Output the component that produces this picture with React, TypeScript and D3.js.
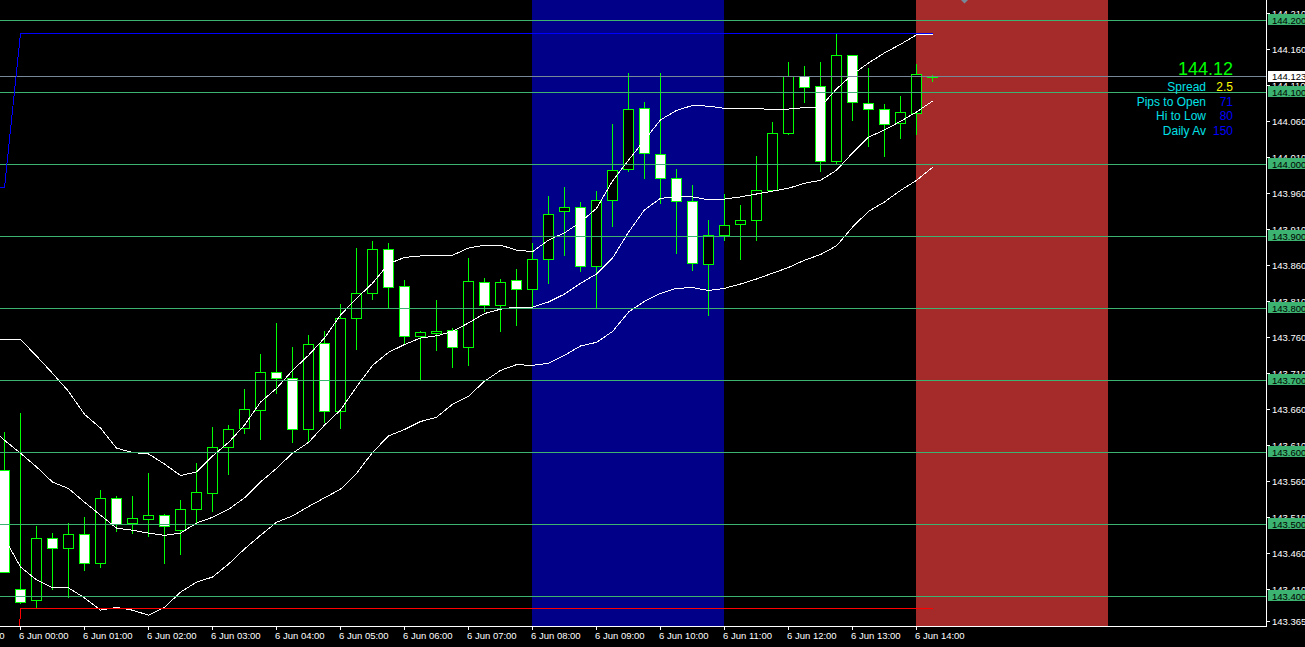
import React from "react";
import * as d3 from "d3";

// ---------- DATA ----------
// M15 candles, first candle index -1 (= 5 Jun 23:45), index 0 = 6 Jun 00:00
const candleFirstIndex = -1;
const opens = [
  143.575, 143.41, 143.394, 143.481, 143.467, 143.486, 143.446, 143.536, 143.501, 143.507,
  143.513, 143.492, 143.521, 143.543, 143.607, 143.633, 143.658, 143.711, 143.703, 143.632,
  143.751, 143.657, 143.786, 143.821, 143.882, 143.831, 143.761, 143.765, 143.769, 143.746,
  143.836, 143.804, 143.839, 143.826, 143.868, 143.935, 143.94, 143.858, 143.95, 143.993,
  144.078, 144.014, 143.981, 143.949, 143.861, 143.901, 143.917, 143.922, 143.964, 144.043,
  144.122, 144.108, 144.004, 144.151, 144.085, 144.076, 144.057, 144.071, 144.123,
];
const highs = [
  143.628, 143.654, 143.498, 143.488, 143.501, 143.51, 143.547, 143.539, 143.539, 143.571,
  143.514, 143.533, 143.585, 143.635, 143.638, 143.688, 143.736, 143.779, 143.746, 143.763,
  143.768, 143.806, 143.883, 143.893, 143.89, 143.839, 143.768, 143.811, 143.772, 143.869,
  143.842, 143.84, 143.854, 143.89, 143.956, 143.968, 143.947, 143.962, 144.056, 144.126,
  144.086, 144.126, 143.993, 143.971, 143.922, 143.958, 143.943, 144.011, 144.058, 144.142,
  144.136, 144.142, 144.182, 144.151, 144.133, 144.083, 144.094, 144.139, 144.124,
];
const lows = [
  143.433, 143.391, 143.383, 143.41, 143.399, 143.436, 143.44, 143.491, 143.488, 143.483,
  143.446, 143.458, 143.501, 143.518, 143.569, 143.626, 143.618, 143.682, 143.614, 143.614,
  143.642, 143.633, 143.743, 143.813, 143.802, 143.75, 143.702, 143.742, 143.718, 143.721,
  143.796, 143.768, 143.776, 143.801, 143.835, 143.874, 143.851, 143.8, 143.914, 143.99,
  143.981, 143.946, 143.876, 143.853, 143.79, 143.894, 143.868, 143.894, 143.962, 144.042,
  144.086, 143.99, 144.0, 144.061, 144.025, 144.011, 144.036, 144.042, 144.115,
];
const closes = [
  143.433, 143.392, 143.481, 143.467, 143.486, 143.446, 143.536, 143.5, 143.508, 143.513,
  143.497, 143.521, 143.544, 143.607, 143.632, 143.66, 143.711, 143.703, 143.632, 143.75,
  143.657, 143.786, 143.821, 143.882, 143.829, 143.761, 143.767, 143.768, 143.746, 143.838,
  143.804, 143.836, 143.826, 143.868, 143.931, 143.94, 143.858, 143.95, 143.992, 144.076,
  144.015, 143.981, 143.949, 143.863, 143.901, 143.915, 143.922, 143.964, 144.043, 144.122,
  144.107, 144.004, 144.151, 144.086, 144.076, 144.056, 144.072, 144.125, 144.123,
];

// Bollinger bands, first value at index -2
const bandFirstIndex = -2;
const upperBand = [
  143.757, 143.757, 143.757, 143.734, 143.71, 143.685, 143.653, 143.634, 143.606, 143.6,
  143.598, 143.584, 143.568, 143.573, 143.595, 143.614, 143.638, 143.67, 143.689, 143.714,
  143.735, 143.759, 143.791, 143.814, 143.835, 143.862, 143.871, 143.873, 143.873, 143.874,
  143.884, 143.888, 143.888, 143.881, 143.879, 143.895, 143.905, 143.92, 143.939, 143.977,
  144.006, 144.034, 144.062, 144.075, 144.082, 144.081, 144.078, 144.078, 144.078, 144.076,
  144.077, 144.079, 144.08, 144.105, 144.125, 144.141, 144.155, 144.167, 144.18, 144.181,
];
const middleBand = [
  143.638, 143.617, 143.599, 143.58, 143.559, 143.55, 143.531, 143.513, 143.495, 143.492,
  143.488, 143.485, 143.488, 143.502, 143.51, 143.521, 143.537, 143.559, 143.578, 143.599,
  143.614, 143.638, 143.659, 143.691, 143.721, 143.739, 143.75, 143.759, 143.762, 143.768,
  143.78, 143.793, 143.799, 143.802, 143.802, 143.809, 143.82, 143.835, 143.848, 143.87,
  143.906, 143.937, 143.953, 143.955, 143.955, 143.951, 143.952, 143.955, 143.959, 143.963,
  143.967, 143.974, 143.978, 143.992, 144.016, 144.038, 144.048, 144.06, 144.073, 144.088,
];
const lowerBand = [
  143.513, 143.481, 143.441, 143.423, 143.412, 143.412, 143.398, 143.381, 143.385, 143.381,
  143.374, 143.385, 143.406, 143.42, 143.427, 143.445, 143.466, 143.485, 143.503, 143.512,
  143.525, 143.537, 143.549, 143.571, 143.6, 143.623, 143.632, 143.643, 143.649, 143.667,
  143.678, 143.699, 143.714, 143.722, 143.721, 143.724, 143.735, 143.748, 143.753, 143.768,
  143.795, 143.81, 143.821, 143.828, 143.829, 143.825, 143.828, 143.834, 143.841, 143.849,
  143.857, 143.867, 143.875, 143.887, 143.913, 143.935, 143.948, 143.964, 143.978, 143.996,
];

// Day high / day low lines (index, price)
const dayHighIdx = [-2, -1, 0, 57];
const dayHighVal = [143.968, 143.968, 144.182, 144.182];
const dayLowIdx = [-1, 0, 57];
const dayLowVal = [142.9, 143.383, 143.383];

const levels = [144.2, 144.1, 144.0, 143.9, 143.8, 143.7, 143.6, 143.5, 143.4];
const priceTicks = [
  144.21, 144.16, 144.11, 144.06, 144.01, 143.96, 143.91, 143.86, 143.81, 143.76,
  143.71, 143.66, 143.61, 143.56, 143.51, 143.46, 143.41, 143.365,
];
const bid = 144.123;

const timeTickIdx = [-4, 0, 4, 8, 12, 16, 20, 24, 28, 32, 36, 40, 44, 48, 52, 56];
const timeTickLabels = [
  "5 Jun 23:00", "6 Jun 00:00", "6 Jun 01:00", "6 Jun 02:00", "6 Jun 03:00", "6 Jun 04:00",
  "6 Jun 05:00", "6 Jun 06:00", "6 Jun 07:00", "6 Jun 08:00", "6 Jun 09:00", "6 Jun 10:00",
  "6 Jun 11:00", "6 Jun 12:00", "6 Jun 13:00", "6 Jun 14:00",
];

const sessionFrom = [32, 56];
const sessionTo = [44, 68];
const sessionColors = ["#000088", "#A52A2A"];

const lastPrice = "144.12";
const infoLabels = ["Spread", "Pips to Open", "Hi to Low", "Daily Av"];
const infoValues = ["2.5", "71", "80", "150"];
const infoValueColors = ["#FFFF00", "#0000FF", "#0000FF", "#0000FF"];

// ---------- LAYOUT ----------
const W = 1305;
const H = 647;
const PLOT_R = 1266;
const PLOT_B = 626;
const GREEN = "#00FF00";
const LEVEL = "#3CB371";
const AXIS_FONT = "'Liberation Sans', Arial, sans-serif";

const x = d3.scaleLinear().domain([0, 4]).range([20.5, 84.5]);
const y = d3.scaleLinear().domain([143.4, 144.2]).range([596.5, 20.5]);
const px = (v: number) => Math.floor(y(v) + 0.1) + 0.5;

export default function App() {
  const bandLine = d3
    .line<number>()
    .x((_, i) => x(i + bandFirstIndex))
    .y((d) => y(d));
  const idxLine = (idx: number[], vals: number[]) =>
    d3
      .line<number>()
      .x((_, i) => x(idx[i]))
      .y((d) => px(d))(vals) || "";

  return (
    <svg
      width={W}
      height={H}
      style={{ position: "absolute", left: 0, top: 0, display: "block", background: "#000" }}
    >
      <defs>
        <clipPath id="plot">
          <rect x={0} y={0} width={PLOT_R} height={PLOT_B} />
        </clipPath>
      </defs>
      <rect x={0} y={0} width={W} height={H} fill="#000" />

      <g clipPath="url(#plot)">
        {/* session rectangles */}
        {sessionFrom.map((f, i) => (
          <rect
            key={"s" + i}
            x={x(f) - 0.5}
            y={0}
            width={x(sessionTo[i]) - x(f)}
            height={PLOT_B}
            fill={sessionColors[i]}
            shapeRendering="crispEdges"
          />
        ))}

        {/* candles */}
        {opens.map((o, i) => {
          const k = i + candleFirstIndex;
          const cx = x(k);
          const c = closes[i];
          const yTop = px(Math.max(o, c));
          const yBot = px(Math.min(o, c));
          const bull = c > o;
          return (
            <g key={"c" + i} shapeRendering="crispEdges">
              <line x1={cx} x2={cx} y1={px(highs[i]) - 0.5} y2={px(lows[i]) + 0.5} stroke={GREEN} />
              {yBot - yTop >= 1 ? (
                <rect
                  x={cx - 5}
                  y={yTop}
                  width={10}
                  height={yBot - yTop}
                  fill={bull ? "#000" : "#fff"}
                  stroke={GREEN}
                />
              ) : (
                <line x1={cx - 5.5} x2={cx + 5.5} y1={yTop} y2={yTop} stroke={GREEN} strokeWidth={2} />
              )}
            </g>
          );
        })}

        {/* bollinger bands */}
        {[upperBand, middleBand, lowerBand].map((b, i) => (
          <path
            key={"b" + i}
            d={bandLine(b) || ""}
            fill="none"
            stroke="#fff"
            strokeWidth={1}
            shapeRendering="crispEdges"
          />
        ))}

        {/* levels */}
        {levels.map((l) => (
          <line
            key={"l" + l}
            x1={0}
            x2={PLOT_R}
            y1={px(l)}
            y2={px(l)}
            stroke={LEVEL}
            shapeRendering="crispEdges"
          />
        ))}
        <line x1={0} x2={PLOT_R} y1={px(bid)} y2={px(bid)} stroke="#778899" shapeRendering="crispEdges" />

        {/* day high / low */}
        <path d={idxLine(dayHighIdx, dayHighVal)} fill="none" stroke="#0000FF" shapeRendering="crispEdges" />
        <path d={idxLine(dayLowIdx, dayLowVal)} fill="none" stroke="#FF0000" shapeRendering="crispEdges" />

        {/* small grey marker at top */}
        <polygon points="961,0 968,0 964.5,3.5" fill="#778899" />
      </g>

      {/* axes */}
      <line x1={PLOT_R + 0.5} x2={PLOT_R + 0.5} y1={0} y2={PLOT_B + 1} stroke="#fff" shapeRendering="crispEdges" />
      <line x1={0} x2={PLOT_R + 1} y1={PLOT_B + 0.5} y2={PLOT_B + 0.5} stroke="#fff" shapeRendering="crispEdges" />

      {/* price ticks */}
      {priceTicks.map((p) => (
        <g key={"pt" + p}>
          <line x1={PLOT_R} x2={PLOT_R + 4} y1={px(p)} y2={px(p)} stroke="#fff" shapeRendering="crispEdges" />
          <text x={1272} y={px(p) + 3.5} fill="#fff" fontSize={9.5} fontFamily={AXIS_FONT}>
            {p.toFixed(3)}
          </text>
        </g>
      ))}

      {/* level labels */}
      {levels.map((l) => (
        <g key={"ll" + l}>
          <rect x={1268} y={px(l) - 6.5} width={40} height={11} fill={LEVEL} shapeRendering="crispEdges" />
          <text x={1272} y={px(l) + 3} fill="#000" fontSize={9.5} fontFamily={AXIS_FONT}>
            {l.toFixed(3)}
          </text>
        </g>
      ))}
      <rect x={1268} y={px(bid) - 5.5} width={40} height={11} fill="#fff" shapeRendering="crispEdges" />
      <text x={1272} y={px(bid) + 3.5} fill="#000" fontSize={9.5} fontFamily={AXIS_FONT}>
        {bid.toFixed(3)}
      </text>

      {/* time ticks */}
      {timeTickIdx.map((t, i) => (
        <g key={"tt" + t}>
          <line x1={x(t)} x2={x(t)} y1={PLOT_B} y2={PLOT_B + 4} stroke="#fff" shapeRendering="crispEdges" />
          <text x={x(t) - 1.5} y={638.5} fill="#fff" fontSize={9.5} fontFamily={AXIS_FONT}>
            {timeTickLabels[i]}
          </text>
        </g>
      ))}

      {/* info panel */}
      <text x={1233} y={75} textAnchor="end" fill="#00FF00" fontSize={18} fontFamily={AXIS_FONT}>
        {lastPrice}
      </text>
      {infoLabels.map((lab, i) => (
        <g key={"in" + i}>
          <text x={1206} y={91 + i * 14.7} textAnchor="end" fill="#00E0E8" fontSize={12} fontFamily={AXIS_FONT}>
            {lab}
          </text>
          <text x={1233} y={91 + i * 14.7} textAnchor="end" fill={infoValueColors[i]} fontSize={12} fontFamily={AXIS_FONT}>
            {infoValues[i]}
          </text>
        </g>
      ))}
    </svg>
  );
}
